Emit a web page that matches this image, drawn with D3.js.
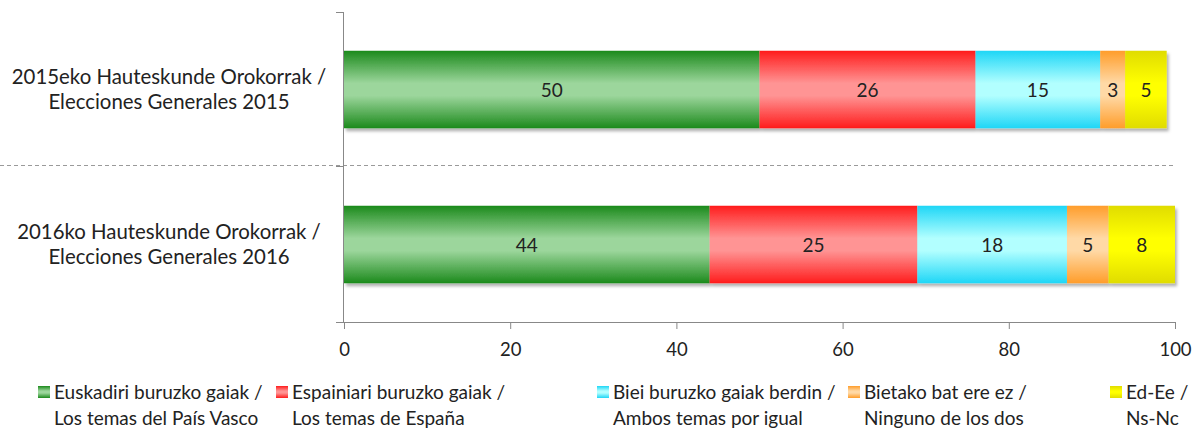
<!DOCTYPE html>
<html><head><meta charset="utf-8">
<script src="https://cdn.jsdelivr.net/npm/d3@7"></script>
<style>body{margin:0;background:#fff;} svg{display:block;font-family:Lato, "Open Sans", sans-serif;}</style>
</head><body>
<svg id="c" width="1202" height="433"></svg>
<script>
const categories = [["2015eko Hauteskunde Orokorrak /","Elecciones Generales 2015"],["2016ko Hauteskunde Orokorrak /","Elecciones Generales 2016"]];
const seriesNames = [["Euskadiri buruzko gaiak /","Los temas del País Vasco"],["Espainiari buruzko gaiak /","Los temas de España"],["Biei buruzko gaiak berdin /","Ambos temas por igual"],["Bietako bat ere ez /","Ninguno de los dos"],["Ed-Ee /","Ns-Nc"]];
const values2015 = [50, 26, 15, 3, 5];
const values2016 = [44, 25, 18, 5, 8];
const xTicks = [0, 20, 40, 60, 80, 100];
const colorsDark = ["#1c8a1c", "#ff1c1c", "#1ed6f6", "#ff9d2a", "#e0dc00"];
const colorsLight = ["#9cd69c", "#ff9494", "#b2ffff", "#ffd9a6", "#ffff00"];

const rows = [values2015, values2016];
const svg = d3.select("#c");
const x = d3.scaleLinear().domain([0,100]).range([344,1175]);
const y = d3.scaleBand().domain([0,1]).range([12,322]).paddingInner(0.5).paddingOuter(0.25);

const defs = svg.append("defs");
colorsDark.forEach((c,i)=>{
  const g = defs.append("linearGradient").attr("id","g"+i).attr("x1",0).attr("x2",0).attr("y1",0).attr("y2",1);
  g.append("stop").attr("offset","0%").attr("stop-color",c);
  g.append("stop").attr("offset","42%").attr("stop-color",colorsLight[i]);
  g.append("stop").attr("offset","58%").attr("stop-color",colorsLight[i]);
  g.append("stop").attr("offset","100%").attr("stop-color",c);
});
const f = defs.append("filter").attr("id","sh").attr("x","-5%").attr("y","-20%").attr("width","110%").attr("height","150%");
f.append("feDropShadow").attr("dx",2).attr("dy",3).attr("stdDeviation",1.8).attr("flood-color","#000").attr("flood-opacity",0.3);

// separator
const step = y.step();
const sepY = y(0) + y.bandwidth() + (step - y.bandwidth())/2;
svg.append("line").attr("x1",0).attr("x2",1173).attr("y1",sepY-1.5).attr("y2",sepY-1.5)
  .attr("stroke","#9a9a9a").attr("stroke-dasharray","4,3").attr("stroke-width",1);

// bars
rows.forEach((vals,r)=>{
  let cum = 0;
  const segs = vals.map((v,i)=>{const s={i,v,x0:cum,x1:cum+v}; cum+=v; return s;});
  const g = svg.append("g").attr("filter","url(#sh)");
  g.selectAll("rect").data(segs).join("rect")
    .attr("x",d=>x(d.x0)).attr("width",d=>x(d.x1)-x(d.x0))
    .attr("y",y(r)).attr("height",y.bandwidth())
    .attr("fill",d=>`url(#g${d.i})`);
  svg.append("g").selectAll("text").data(segs).join("text")
    .attr("x",d=>(x(d.x0)+x(d.x1))/2).attr("y",y(r)+y.bandwidth()/2+7)
    .attr("text-anchor","middle").attr("font-size",19).attr("fill","#222")
    .text(d=>d.v);
});

// axes
const ax = svg.append("g").attr("transform","translate(0,322)")
  .call(d3.axisBottom(x).tickValues(xTicks).tickSize(7).tickSizeOuter(0));
ax.select(".domain").attr("stroke","#888");
ax.selectAll(".tick line").attr("stroke","#888");
ax.selectAll(".tick text").attr("font-size",18.5).attr("fill","#222").attr("dy","1.3em").attr("font-family","Lato, sans-serif");
svg.append("line").attr("x1",336).attr("x2",344).attr("y1",322.5).attr("y2",322.5).attr("stroke","#888");
svg.append("line").attr("x1",343.5).attr("x2",343.5).attr("y1",12).attr("y2",322).attr("stroke","#888");
[12, sepY-1, 322].forEach(t=>svg.append("line").attr("x1",336).attr("x2",343).attr("y1",t+0.5).attr("y2",t+0.5).attr("stroke","#888"));

// category labels
categories.forEach((lines,r)=>{
  const cy = y(r)+y.bandwidth()/2;
  lines.forEach((t,k)=>svg.append("text").attr("x",169).attr("y",cy-6+k*25)
    .attr("text-anchor","middle").attr("font-size",20.4).attr("fill","#222").text(t));
});

// legend
const legX = [38, 276, 597, 848, 1110];
seriesNames.forEach((lines,i)=>{
  svg.append("rect").attr("x",legX[i]).attr("y",386).attr("width",12).attr("height",12).attr("fill",`url(#g${i})`);
  lines.forEach((t,k)=>svg.append("text").attr("x",legX[i]+16).attr("y",399+k*26)
    .attr("font-size",19).attr("fill","#222").text(t));
});
</script>
</body></html>
